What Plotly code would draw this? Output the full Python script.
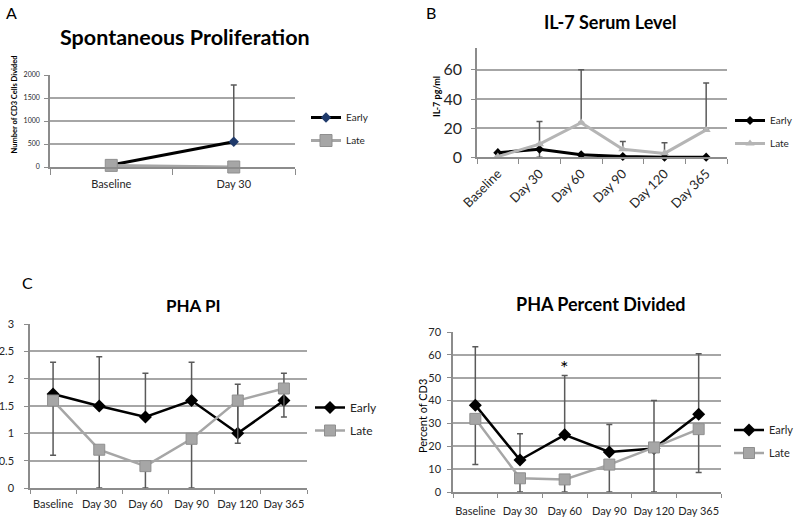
import plotly.graph_objects as go

FONT = "Lato, 'Open Sans', sans-serif"
W, H = 800, 518

# panel A - spontaneous proliferation
a_days = ["Baseline", "Day 30"]
a_early = [45, 550]
a_early_up = [0, 1230]
a_late = [35, 0]

# panels B, C, D share the time points
days = ["Baseline", "Day 30", "Day 60", "Day 90", "Day 120", "Day 365"]

# panel B - IL-7 serum level (pg/ml)
b_early = [3.2, 5.5, 1.8, 0.5, 0.1, 0.1]
b_early_down = [3.2, 5.5, 1.8, 0.5, 0.1, 0.1]
b_late = [0.5, 9, 23.8, 5.5, 2.7, 18.8]
b_late_up = [0, 15.5, 36.2, 5.3, 7.3, 32.2]

# panel C - PHA PI
c_early = [1.72, 1.5, 1.3, 1.6, 1.0, 1.6]
c_early_up = [0.58, 0.9, 0.8, 0.7, 0.9, 0.5]
c_late = [1.6, 0.7, 0.4, 0.9, 1.6, 1.82]
c_late_down = [1.0, 0.7, 0.4, 0.9, 0.78, 0.52]

# panel D - PHA percent divided
d_early = [38, 14, 25, 17.5, 19, 34]
d_early_up = [25.5, 11.5, 26, 12, 21, 26.5]
d_late = [32, 6, 5.5, 12, 19.5, 27.5]
d_late_down = [20, 6, 5.5, 12, 19.5, 19]

GRID = "#a6a6a6"
ERR = "#5a5a5a"
LATE = "#a6a6a6"


def err(up, down):
    return dict(type="data", symmetric=False, array=up, arrayminus=down,
                color=ERR, thickness=1.5, width=3)


def px(x):
    return x / W


def py(y):
    return 1 - y / H


fig = go.Figure()


def add_series(x, y, name, ax, legend, color, symbol, size, lw, error, mcolor=None, mline=None):
    fig.add_trace(go.Scatter(
        x=x, y=y, name=name, mode="lines+markers",
        xaxis="x" + ax, yaxis="y" + ax, legend=legend, legendgroup=legend + name,
        line=dict(color=color, width=lw),
        marker=dict(symbol=symbol, size=size, color=mcolor or color,
                    line=mline or dict(width=0)),
        error_y=error, cliponaxis=False,
    ))


zeros2 = [0] * 2
zeros6 = [0] * 6

add_series(a_days, a_early, "Early", "", "legend", "black", "diamond", 8, 3,
           err(a_early_up, zeros2), mcolor="#1f3a6b")
add_series(a_days, a_late, "Late", "", "legend", LATE, "square", 12, 3,
           err(zeros2, zeros2), mline=dict(color="#8f8f8f", width=1))

add_series(days, b_early, "Early", "2", "legend2", "black", "diamond", 7, 3,
           err(zeros6, b_early_down))
add_series(days, b_late, "Late", "2", "legend2", "#b5b5b5", "triangle-up", 8, 3,
           err(b_late_up, zeros6))

add_series(days, c_early, "Early", "3", "legend3", "black", "diamond", 10, 2.5,
           err(c_early_up, zeros6))
add_series(days, c_late, "Late", "3", "legend3", LATE, "square", 11, 2.5,
           err(zeros6, c_late_down), mline=dict(color="#8f8f8f", width=1))

add_series(days, d_early, "Early", "4", "legend4", "black", "diamond", 10, 2.5,
           err(d_early_up, zeros6))
add_series(days, d_late, "Late", "4", "legend4", LATE, "square", 11, 2.5,
           err(zeros6, d_late_down), mline=dict(color="#8f8f8f", width=1))


def xax(x0, x1, anchor, n, size, ticklen=5, angle=0, standoff=2):
    return dict(domain=[px(x0), px(x1)], anchor=anchor, type="category",
                range=[-0.5, n - 0.5], showgrid=False, zeroline=False,
                showline=True, linecolor="#8c8c8c", linewidth=1.5,
                ticks="outside", tickson="boundaries", ticklen=ticklen,
                tickcolor="#8c8c8c", tickwidth=1, tickangle=angle,
                ticklabelstandoff=standoff, automargin=False,
                tickfont=dict(size=size, color="#262626"))


def yax(ytop, ybot, anchor, rng, dtick, size, standoff=4):
    return dict(domain=[py(ybot), py(ytop)], anchor=anchor, range=rng,
                dtick=dtick, tick0=0, showgrid=True, gridcolor=GRID, gridwidth=1.5,
                zeroline=False, showline=True, linecolor="#8c8c8c", linewidth=1.5,
                ticks="outside", ticklen=4, tickcolor="#8c8c8c",
                ticklabelstandoff=standoff, automargin=False,
                tickfont=dict(size=size, color="#262626"))


def legend(x, y, size):
    return dict(x=px(x), y=py(y), xanchor="left", yanchor="middle",
                font=dict(size=size, color="#262626", family=FONT),
                bgcolor="rgba(0,0,0,0)", tracegroupgap=4, itemwidth=30)


def note(text, x, y, size, bold=False, angle=0, ref=("paper", "paper")):
    fig.add_annotation(
        text="<b>%s</b>" % text if bold else text,
        x=x, y=y, xref=ref[0], yref=ref[1],
        xanchor="center", yanchor="middle", showarrow=False, textangle=angle,
        font=dict(size=size, color="black", family=FONT))


fig.update_layout(
    width=W, height=H, margin=dict(l=0, r=0, t=0, b=0),
    paper_bgcolor="white", plot_bgcolor="white",
    font=dict(family=FONT, color="#262626"),
    xaxis=xax(50, 295, "y", 2, 11, ticklen=6, standoff=6),
    yaxis=yax(75, 167, "x", [0, 2000], 500, 7, standoff=3),
    xaxis2=xax(477, 727, "y2", 6, 13, ticklen=5, angle=-45, standoff=2),
    yaxis2=yax(48, 157.3, "x2", [0, 75], 20, 16, standoff=6),
    xaxis3=xax(30, 307, "y3", 6, 11, ticklen=4, standoff=5),
    yaxis3=yax(324, 488, "x3", [0, 3], 0.5, 11, standoff=8),
    xaxis4=xax(453, 721, "y4", 6, 11, ticklen=4, standoff=8),
    yaxis4=yax(332, 492, "x4", [0, 70], 10, 11, standoff=4),
    legend=legend(306, 129, 10),
    legend2=legend(730, 132, 10),
    legend3=legend(310, 419, 12),
    legend4=legend(729, 441.5, 11),
)

# chart titles and panel letters
note("Spontaneous Proliferation", px(185), py(37), 21.5, bold=True)
note("IL-7 Serum Level", px(610), py(22), 18, bold=True)
note("PHA PI", px(193), py(305), 17, bold=True)
note("PHA Percent Divided", px(601), py(304), 18, bold=True)
note("A", px(11.5), py(12.5), 16)
note("B", px(431), py(13), 16)
note("C", px(27.5), py(282.5), 16)

# axis titles
note("Number of CD3 Cells Divided", px(14), py(104.5), 7.5, bold=True, angle=-90)
note("IL-7 pg/ml", px(437), py(97), 9, bold=True, angle=-90)
note("Percent of CD3", px(422), py(416), 11, angle=-90)

# significance mark
note("*", "Day 60", 54.5, 20, ref=("x4", "y4"))

# drop the browser's default 8px body margin so the figure fills the window
fig.write_html("out.html", config={"displayModeBar": False},
               post_script="document.body.style.margin = '0';")
